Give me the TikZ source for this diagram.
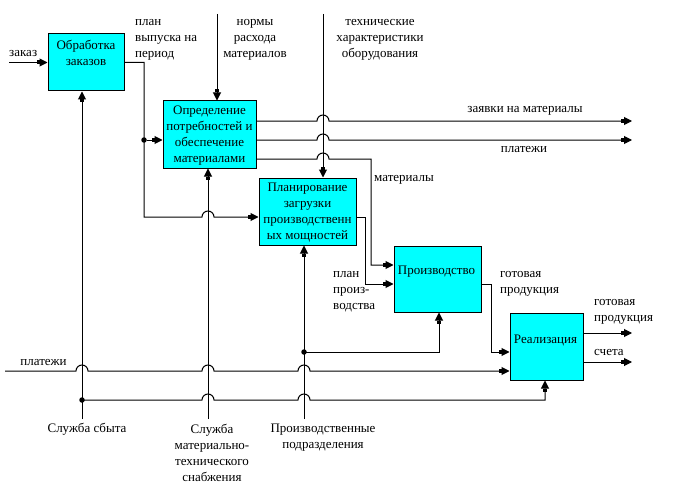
\documentclass[tikz,border=0pt]{standalone}
\usepackage{fontspec}
\setmainfont{Liberation Serif}
\usetikzlibrary{arrows.meta}
\definecolor{boxcyan}{RGB}{0,255,255}
\newcommand\hop[2]{-- ({#1-6},#2) arc[start angle=180,end angle=0,radius=6pt]}
\begin{document}
\begin{tikzpicture}[x=1pt,y=-1pt,
    every node/.style={font=\fontsize{13}{16}\selectfont, inner sep=0pt},
    box/.style={draw, line width=1pt, fill=boxcyan},
    txt/.style={align=center},
    flow/.style={line width=1pt,
      -{Rectangle[length=3pt,width=4pt,sep=0pt]Triangle[length=8pt,width=8pt]}},
    dot/.style={circle, fill, minimum size=5.5pt}]
  \useasboundingbox (0,0) rectangle (678,495);
  % blocks
  \node[box, minimum width=76pt, minimum height=57pt] (A) at (86,62.5) {};
  \node[box, minimum width=93pt, minimum height=67pt] (B) at (209.5,134.5) {};
  \node[box, minimum width=97pt, minimum height=67pt] (C) at (307.5,211.5) {};
  \node[box, minimum width=87pt, minimum height=66pt] (D) at (437.5,279) {};
  \node[box, minimum width=73pt, minimum height=67pt] (E) at (546.5,346.5) {};
  \node[txt] (At) at (86,53) {Обработка\\заказов};
  \node[txt] (Bt) at (209.5,135.5) {Определение\\потребностей и\\обеспечение\\материалами};
  \node[txt] (Ct) at (307.5,212.5) {Планирование\\загрузки\\производственн\\ых мощностей};
  \node[txt] (Dt) at (436.5,272) {Производство};
  \node[txt] (Et) at (545.5,340) {Реализация};
  % inputs and controls
  \coordinate (zin) at (9,62.5);
  \draw[flow] (zin) -- (A.west);
  \coordinate (a1) at (144,62.5);
  \coordinate (a2) at (144,217);
  \node[dot] (d1) at (144,140) {};
  \draw[flow] (A.east) -- (a1) -- (a2) \hop{208}{217} -- (a2 -| C.west);
  \draw[flow] (d1) -- (d1 -| B.west);
  \coordinate (n0) at (217,14);
  \draw[flow] (n0) -- (n0 |- B.north);
  \coordinate (t0) at (323,14);
  \draw[flow] (t0) -- (t0 |- C.north);
  % outputs
  \coordinate (o1) at (632,121);
  \coordinate (o2) at (632,140);
  \draw[flow] (o1 -| B.east) \hop{323}{121} -- (o1);
  \draw[flow] (o2 -| B.east) \hop{323}{140} -- (o2);
  \coordinate (m1) at (371,159);
  \coordinate (m2) at (371,265);
  \draw[flow] (m1 -| B.east) \hop{323}{159} -- (m1) -- (m2) -- (m2 -| D.west);
  \coordinate (c1) at (365,217);
  \coordinate (c2) at (365,284);
  \draw[flow] (c1 -| C.east) -- (c1) -- (c2) -- (c2 -| D.west);
  \coordinate (g1) at (491,284);
  \coordinate (g2) at (491,352);
  \draw[flow] (g1 -| D.east) -- (g1) -- (g2) -- (g2 -| E.west);
  \coordinate (e1) at (632,333);
  \coordinate (e2) at (632,362);
  \draw[flow] (e1 -| E.east) -- (e1);
  \draw[flow] (e2 -| E.east) -- (e2);
  % mechanisms
  \coordinate (s0) at (82,419);
  \node[dot] (s1) at (82,400) {};
  \coordinate (s2) at (545,400);
  \draw[flow] (s0) -- (s0 |- A.south);
  \draw[flow] (s1.center) \hop{208}{400} \hop{304}{400} -- (s2) -- (s2 |- E.south);
  \coordinate (mt0) at (208,419);
  \draw[flow] (mt0) -- (mt0 |- B.south);
  \coordinate (p0) at (304,419);
  \node[dot] (p1) at (304,352) {};
  \coordinate (p2) at (439,352);
  \draw[flow] (p0) -- (p0 |- C.south);
  \draw[flow] (p1.center) -- (p2) -- (p2 |- D.south);
  \coordinate (pl0) at (5,371);
  \draw[flow] (pl0) \hop{82}{371} \hop{208}{371} \hop{304}{371} -- (pl0 -| E.west);
  % labels
  \node[anchor=west] (lzak) at (9,54) {заказ};
  \node[anchor=west, align=left] (lplan) at (135,40) {план\\выпуска на\\период};
  \node[txt] (lnorm) at (255,40) {нормы\\расхода\\материалов};
  \node[txt] (ltech) at (380,40) {технические\\характеристики\\оборудования};
  \node (lzav) at (525,111) {заявки на материалы};
  \node (lpl1) at (524,150) {платежи};
  \node[anchor=west] (lmat) at (374,180) {материалы};
  \node[anchor=west, align=left] (lpp) at (333,292) {план\\произ-\\водства};
  \node[anchor=west, align=left] (lgp1) at (500,283.5) {готовая\\продукция};
  \node[anchor=west, align=left] (lgp2) at (594,312) {готовая\\продукция};
  \node[anchor=west] (lsch) at (594,352) {счета};
  \node (lpl2) at (43.5,362) {платежи};
  \node (lss) at (87,429) {Служба сбыта};
  \node[txt] (lmts) at (212,453) {Служба\\материально-\\технического\\снабжения};
  \node[txt] (lpr) at (323,437.5) {Производственные\\подразделения};
\end{tikzpicture}
\end{document}
